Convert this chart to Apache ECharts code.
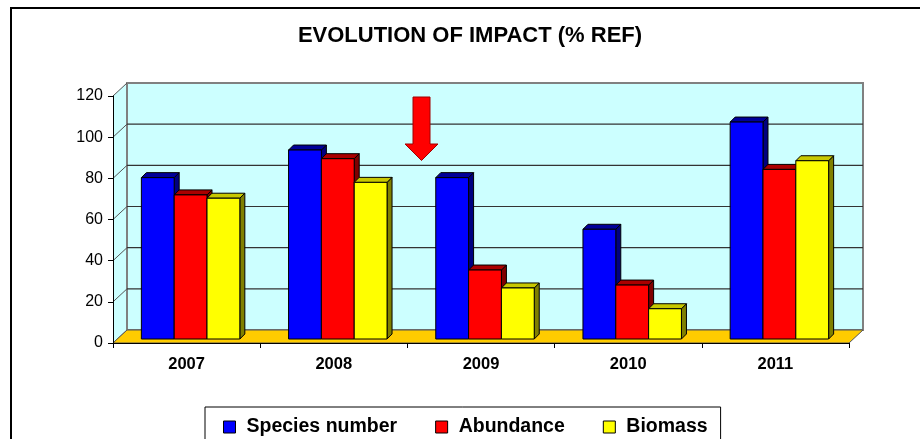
<!DOCTYPE html>
<html>
<head>
<meta charset="utf-8">
<script src="https://cdn.jsdelivr.net/npm/echarts@6/dist/echarts.min.js"></script>
<style>
  html, body { margin: 0; padding: 0; background: #fff; }
  #chart { width: 920px; height: 439px; }
</style>
</head>
<body>
<div id="chart"></div>
<script>
// values
const years = ['2007', '2008', '2009', '2010', '2011'];
const speciesNumber = [78.4, 91.8, 78.4, 53.3, 105.4];
const abundance = [70, 87.6, 33.5, 26.2, 82.4];
const biomass = [68.4, 76.1, 24.8, 14.7, 86.6];
const yTicks = [0, 20, 40, 60, 80, 100, 120];

const WALL = [14, -13];   // depth of the 3d box
const BAR_SHIFT = [4, -4]; // bars sit a bit behind the front plane
const BAR_DEPTH = [5, -5];

const chart = echarts.init(document.getElementById('chart'));

function frameItem(params, api) {
  const cs = params.coordSys;
  const x0 = cs.x, x1 = cs.x + cs.width;
  const yb = api.coord([0, 0])[1];
  const yt = api.coord([0, yTicks[yTicks.length - 1]])[1];
  const dx = WALL[0], dy = WALL[1];
  const kids = [];
  // side wall
  kids.push({ type: 'polygon', shape: { points: [[x0, yb], [x0 + dx, yb + dy], [x0 + dx, yt + dy], [x0, yt]] },
    style: { fill: '#CCFFFF' } });
  // back wall
  kids.push({ type: 'rect', shape: { x: x0 + dx, y: yt + dy, width: x1 - x0, height: yb - yt },
    style: { fill: '#CCFFFF', stroke: '#808080', lineWidth: 2 } });
  yTicks.forEach(function (v) {
    const y = api.coord([0, v])[1];
    if (v > 0 && v < yTicks[yTicks.length - 1]) {
      kids.push({ type: 'line', shape: { x1: x0 + dx, y1: y + dy, x2: x1 + dx, y2: y + dy },
        style: { stroke: '#333', lineWidth: 1.2 } });
    }
    kids.push({ type: 'line', shape: { x1: x0, y1: y, x2: x0 + dx, y2: y + dy },
      style: { stroke: '#555', lineWidth: 1 } });
  });
  // floor
  kids.push({ type: 'polygon', shape: { points: [[x0, yb], [x1, yb], [x1 + dx, yb + dy], [x0 + dx, yb + dy]] },
    style: { fill: '#FFCC00', stroke: '#555', lineWidth: 1 } });
  return { type: 'group', children: kids };
}

function barItem(k, front, top, side) {
  return function (params, api) {
    const i = api.value(0), v = api.value(1);
    const base = api.coord([i, 0]);
    const tp = api.coord([i, v]);
    const w = api.size([1, 0])[0] * 0.223;
    const xa = base[0] - 1.5 * w + k * w + BAR_SHIFT[0];
    const xb = xa + w;
    const ya = tp[1] + BAR_SHIFT[1];
    const yb = base[1] + BAR_SHIFT[1];
    const dx = BAR_DEPTH[0], dy = BAR_DEPTH[1];
    const line = { stroke: '#000', lineWidth: 1 };
    return {
      type: 'group',
      children: [
        { type: 'polygon', shape: { points: [[xb, yb], [xb + dx, yb + dy], [xb + dx, ya + dy], [xb, ya]] },
          style: Object.assign({ fill: side }, line) },
        { type: 'polygon', shape: { points: [[xa, ya], [xb, ya], [xb + dx, ya + dy], [xa + dx, ya + dy]] },
          style: Object.assign({ fill: top }, line) },
        { type: 'rect', shape: { x: xa, y: ya, width: w, height: yb - ya },
          style: Object.assign({ fill: front }, line) }
      ]
    };
  };
}

function barSeries(name, values, k, front, top, side) {
  return {
    name: name,
    type: 'custom',
    z: 3,
    itemStyle: { color: front, borderColor: '#000', borderWidth: 1 },
    renderItem: barItem(k, front, top, side),
    encode: { x: 0, y: 1 },
    data: values.map(function (v, i) { return [i, v]; })
  };
}

chart.setOption({
  animation: false,
  backgroundColor: '#fff',
  title: {
    text: 'EVOLUTION OF IMPACT (% REF)',
    left: 470,
    textAlign: 'center',
    top: 25,
    padding: 0,
    textStyle: { fontFamily: 'Arial, Liberation Sans', fontSize: 22, fontWeight: 'bold', color: '#000' }
  },
  legend: {
    data: ['Species number', 'Abundance', 'Biomass'],
    left: 205,
    top: 407,
    padding: [10, 13, 14, 18],
    itemGap: 38,
    itemWidth: 12,
    itemHeight: 12,
    icon: 'rect',
    borderColor: '#000',
    borderWidth: 1,
    itemStyle: { borderColor: '#000', borderWidth: 1 },
    textStyle: { fontFamily: 'Arial, Liberation Sans', fontSize: 19.5, fontWeight: 'bold', color: '#000', padding: [0, 0, 0, 6] }
  },
  grid: { left: 113, right: 71, top: 96, bottom: 96 },
  xAxis: {
    type: 'category',
    data: years,
    z: 10,
    axisLine: { lineStyle: { color: '#000', width: 1 } },
    axisTick: { show: true, length: 5, lineStyle: { color: '#000' } },
    axisLabel: { margin: 13, color: '#000', fontFamily: 'Arial, Liberation Sans', fontSize: 16.5, fontWeight: 'bold' },
    splitLine: { show: false }
  },
  yAxis: {
    type: 'value',
    min: 0,
    max: 120,
    interval: 20,
    z: 10,
    axisLine: { show: true, lineStyle: { color: '#000', width: 1 } },
    axisTick: { show: true, length: 5, lineStyle: { color: '#000' } },
    axisLabel: { margin: 10, color: '#000', fontFamily: 'Arial, Liberation Sans', fontSize: 16 },
    splitLine: { show: false }
  },
  graphic: [
    { type: 'rect', shape: { x: 11, y: 8, width: 940, height: 460 }, style: { fill: 'none', stroke: '#000', lineWidth: 2 }, z: 100 },
    { type: 'polygon', z: 100,
      shape: { points: [[413, 97], [430, 97], [430, 144], [438, 144], [421.5, 160.5], [405, 144], [413, 144]] },
      style: { fill: '#FF0000', stroke: '#A00000', lineWidth: 1 } }
  ],
  series: [
    {
      name: 'frame',
      type: 'custom',
      z: 1,
      silent: true,
      renderItem: frameItem,
      encode: { x: 0, y: 1 },
      data: [[0, 0]]
    },
    barSeries('Species number', speciesNumber, 0, '#0000FF', '#000099', '#000080'),
    barSeries('Abundance', abundance, 1, '#FF0000', '#AA0000', '#800000'),
    barSeries('Biomass', biomass, 2, '#FFFF00', '#C8C800', '#808000')
  ]
});
</script>
</body>
</html>
